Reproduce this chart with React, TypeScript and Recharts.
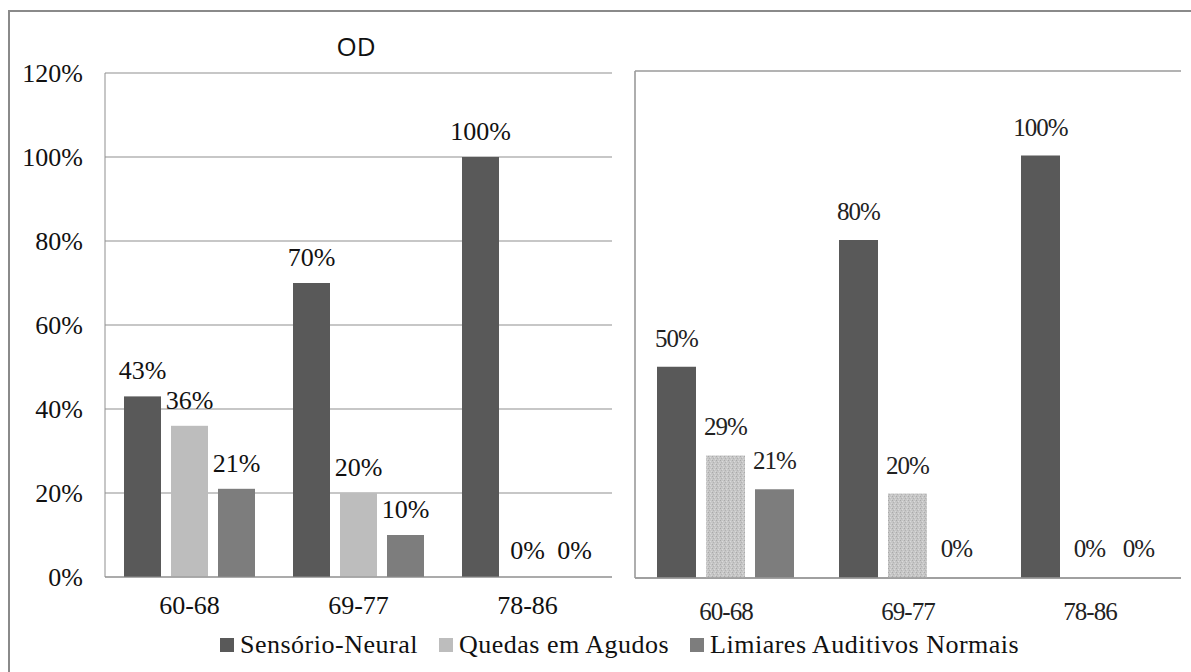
import React from "react";
import { Bar, BarChart, CartesianGrid, LabelList, XAxis, YAxis } from "recharts";

const faixas = ["60-68", "69-77", "78-86"];
const seriesNames = ["Sensório-Neural", "Quedas em Agudos", "Limiares Auditivos Normais"];
const seriesColors = ["#595959", "#bdbdbd", "#7d7d7d"];

// OD (left panel)
const odSensorioNeural = [43, 70, 100];
const odQuedasAgudos = [36, 20, 0];
const odLimiaresNormais = [21, 10, 0];

// right panel
const oeSensorioNeural = [50, 80, 100];
const oeQuedasAgudos = [29, 20, 0];
const oeLimiaresNormais = [21, 0, 0];

const yTicks = [0, 20, 40, 60, 80, 100, 120];

const buildRows = (a: number[], b: number[], c: number[]) =>
  faixas.map((faixa, i) => ({ faixa, s0: a[i], s1: b[i], s2: c[i] }));

const odData = buildRows(odSensorioNeural, odQuedasAgudos, odLimiaresNormais);
const oeData = buildRows(oeSensorioNeural, oeQuedasAgudos, oeLimiaresNormais);

const pct = (v: number) => `${v}%`;
const serif = "Liberation Serif, Times New Roman, DejaVu Serif, serif";
const gridColor = "#8f8f8f";

// zero values keep a 1px slot so their "0%" label is still placed, but no bar is painted
const barShape = (fill: string) => (p: any) =>
  p.height <= 1.01 ? <g /> : <rect x={p.x} y={p.y} width={p.width} height={p.height} fill={fill} />;

function LeftPanel() {
  const labelStyle = { fontFamily: serif, fontSize: 26, fill: "#111" };
  return (
    <div style={{ position: "absolute", left: 0, top: 0 }}>
      <BarChart
        width={620}
        height={672}
        data={odData}
        margin={{ top: 73, right: 8, bottom: 55, left: 45 }}
        barCategoryGap={19}
        barGap={10}
      >
        <CartesianGrid vertical={false} stroke={gridColor} />
        <XAxis
          dataKey="faixa"
          height={40}
          tickLine={false}
          tickSize={0}
          tickMargin={19}
          axisLine={{ stroke: gridColor }}
          tick={{ fontFamily: serif, fontSize: 26, fill: "#111" }}
        />
        <YAxis
          width={60}
          domain={[0, 120]}
          ticks={yTicks}
          tickFormatter={pct}
          tickLine={false}
          tickSize={0}
          tickMargin={22}
          axisLine={{ stroke: gridColor }}
          tick={{ fontFamily: serif, fontSize: 26, fill: "#111" }}
        />
        {[0, 1, 2].map((i) => (
          <Bar
            key={i}
            dataKey={`s${i}`}
            name={seriesNames[i]}
            fill={seriesColors[i]}
            minPointSize={1}
            shape={barShape(seriesColors[i])}
            isAnimationActive={false}
          >
            <LabelList dataKey={`s${i}`} position="top" offset={17} formatter={pct} style={labelStyle} />
          </Bar>
        ))}
      </BarChart>
      <div
        style={{
          position: "absolute",
          left: 356,
          top: 46,
          transform: "translate(-50%, -50%)",
          fontFamily: "'Open Sans', sans-serif",
          fontSize: 26,
          color: "#111",
        }}
      >
        OD
      </div>
    </div>
  );
}

function RightPanel() {
  const labelStyle = { fontFamily: serif, fontSize: 25, letterSpacing: -1, fill: "#222" };
  const fills = [seriesColors[0], "url(#grainLight)", seriesColors[2]];
  return (
    <div style={{ position: "absolute", left: 620, top: 0 }}>
      <BarChart
        width={571}
        height={672}
        data={oeData}
        margin={{ top: 71, right: 10, bottom: 54, left: 5 }}
        barCategoryGap={22}
        barGap={10}
      >
        <defs>
          <pattern id="grainLight" width="4" height="4" patternUnits="userSpaceOnUse">
            <rect width="4" height="4" fill="#c6c6c6" />
            <rect x="0" y="0" width="1" height="1" fill="#a9a9a9" />
            <rect x="2" y="1" width="1" height="1" fill="#dadada" />
            <rect x="1" y="2" width="1" height="1" fill="#b2b2b2" />
            <rect x="3" y="3" width="1" height="1" fill="#d6d6d6" />
          </pattern>
        </defs>
        <CartesianGrid vertical={false} stroke="#9a9a9a" strokeWidth={1.6} />
        <XAxis
          dataKey="faixa"
          height={40}
          tickLine={false}
          tickSize={0}
          tickMargin={24}
          axisLine={{ stroke: "#9a9a9a", strokeWidth: 1.6 }}
          tick={{ fontFamily: serif, fontSize: 25, letterSpacing: -1, fill: "#222" }}
        />
        <YAxis
          width={10}
          domain={[0, 120]}
          ticks={yTicks}
          tick={false}
          tickLine={false}
          axisLine={{ stroke: "#9a9a9a", strokeWidth: 1.6 }}
        />
        {[0, 1, 2].map((i) => (
          <Bar
            key={i}
            dataKey={`s${i}`}
            name={seriesNames[i]}
            fill={fills[i]}
            minPointSize={1}
            shape={barShape(fills[i])}
            isAnimationActive={false}
          >
            <LabelList dataKey={`s${i}`} position="top" offset={20} formatter={pct} style={labelStyle} />
          </Bar>
        ))}
      </BarChart>
    </div>
  );
}

function SharedLegend() {
  return (
    <div
      style={{
        position: "absolute",
        left: 220,
        top: 645,
        transform: "translateY(-50%)",
        display: "flex",
        alignItems: "center",
        fontFamily: serif,
        fontSize: 26,
        letterSpacing: 0.5,
        color: "#111",
        whiteSpace: "nowrap",
      }}
    >
      {seriesNames.map((name, i) => (
        <div key={name} style={{ display: "flex", alignItems: "center", marginRight: 21 }}>
          <span style={{ width: 14, height: 14, background: seriesColors[i], marginRight: 6 }} />
          <span>{name}</span>
        </div>
      ))}
    </div>
  );
}

export default function App() {
  return (
    <div
      style={{
        position: "absolute",
        left: 0,
        top: 0,
        width: 1191,
        height: 672,
        overflow: "hidden",
        background: "#fff",
      }}
    >
      <div
        style={{
          position: "absolute",
          left: 8,
          top: 10,
          width: 1200,
          height: 700,
          borderTop: "2px solid #8a8a8a",
          borderLeft: "2px solid #8a8a8a",
        }}
      />
      <LeftPanel />
      <RightPanel />
      <SharedLegend />
    </div>
  );
}
